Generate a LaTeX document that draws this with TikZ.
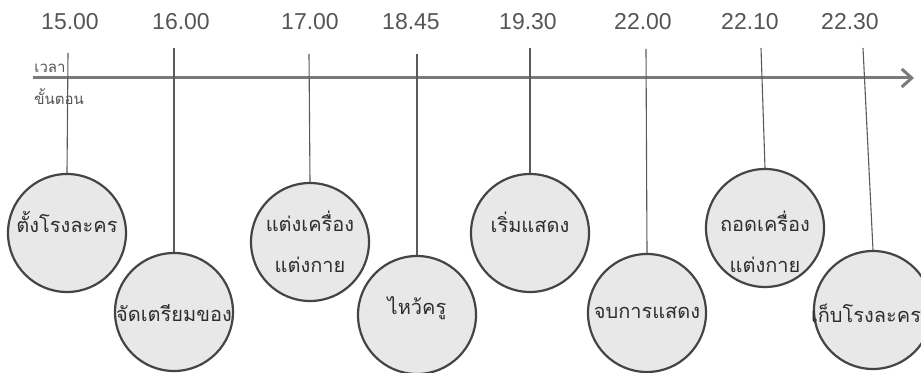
\documentclass[tikz,border=0pt]{standalone}
\usepackage{fontspec}
\newfontfamily\timefont{Liberation Sans}
\newfontfamily\thaifont[Script=Thai]{Loma}
\usetikzlibrary{arrows.meta}

\definecolor{axisgray}{HTML}{7A7A7A}
\definecolor{hangergray}{HTML}{5A5A5A}
\definecolor{timegray}{HTML}{555555}
\definecolor{ballfill}{HTML}{E8E8E8}
\definecolor{ballline}{HTML}{444444}
\definecolor{stepgray}{HTML}{2E2E2E}

\tikzset{
  axis/.style={line width=1.5pt,color=axisgray,-{Straight Barb[length=5pt,width=9pt,line width=1.5pt]}},
  hanger/.style={line width=0.55pt,color=hangergray},
  timelabel/.style={font=\timefont\fontsize{11.5}{13}\selectfont,text=timegray,inner sep=1pt},
  axislabel/.style={font=\thaifont\fontsize{7.5}{9}\selectfont,text=timegray,inner sep=0pt},
  ball/.style={circle,draw=ballline,line width=1.1pt,fill=ballfill,minimum size=59pt,inner sep=0pt},
  steptext/.style={font=\thaifont\fontsize{10}{20.5}\selectfont,text=stepgray,align=center,inner sep=0pt}
}

\begin{document}
\begin{tikzpicture}[x=0.5pt,y=-0.5pt]
\useasboundingbox (0,0) rectangle (921,373);

% time axis
\coordinate (axisstart) at (33,78);
\coordinate (axisend) at (914,78);
\draw[axis] (axisstart) -- (axisend);
\node[axislabel,anchor=west] (timehead) at (34,68) {เวลา};
\node[axislabel,anchor=west] (stephead) at (34,97) {ขั้นตอน};

% labels, hangers and balls
\foreach \n/\lx/\ly/\bx/\by/\sx/\sy/\step in {
  1/68/53/67/233/67/222/{ตั้งโรงละคร},
  2/174/48/174/312/174/313/{จัดเตรียมของ},
  3/309/54/310/242/310/242/{แต่งเครื่อง\\แต่งกาย},
  4/417/54/417/315/417/308/{ไหว้ครู},
  5/530/48/530/233/530/222/{เริ่มแสดง},
  6/646/49/647/313/647/313/{จบการแสดง},
  7/761/48/765/228/765/242/{ถอดเครื่อง\\แต่งกาย},
  8/863/48/873/310/866/313/{เก็บโรงละคร}} {
\coordinate (top\n) at (\lx,\ly);
\node[ball] (ball\n) at (\bx,\by) {};
\draw[hanger] (top\n) -- (ball\n.north);
\node[steptext] (step\n) at (\sx,\sy) {\step};
}

\foreach \n/\tx/\time in {1/70/15.00,2/181/16.00,3/310/17.00,4/411/18.45,5/528/19.30,6/643/22.00,7/750/22.10,8/850/22.30}
\node[timelabel] (time\n) at (\tx,22) {\time};

\end{tikzpicture}
\end{document}
